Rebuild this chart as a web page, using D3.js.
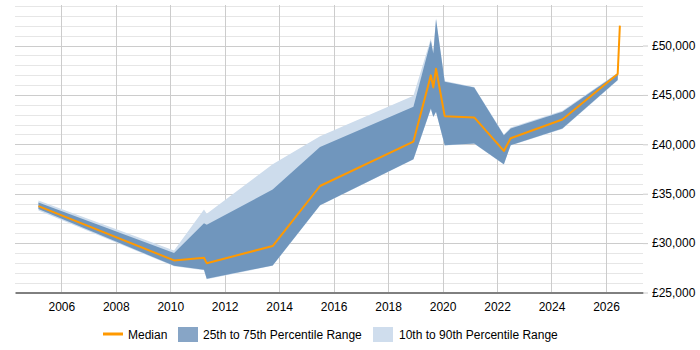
<!DOCTYPE html>
<html>
<head>
<meta charset="utf-8">
<script src="https://cdn.jsdelivr.net/npm/d3@7"></script>
<style>
  body { margin: 0; background: #fff; }
  svg { font-family: "Liberation Sans", Arial, sans-serif; font-size: 12px; }
</style>
</head>
<body>
<svg id="chart" width="700" height="350"></svg>
<script>
// decimal years of each sample
const years = [2005.16, 2010.14, 2011.24, 2011.34, 2013.76, 2015.5, 2018.93, 2019.57, 2019.66, 2019.76,
  2020.08, 2021.16, 2022.25, 2022.5, 2024.4, 2026.43, 2026.51];
const median = [33750, 28250, 28520, 27970, 29700, 35780, 40280, 46980, 45760, 47650,
  42850, 42720, 39330, 40620, 42510, 47110, 52010];
const p25 = [33450, 27700, 27300, 26390, 27740, 33820, 38490, 43630, 42780, 43290,
  39910, 40080, 37980, 39910, 41600, 46500, 52000];
const p75 = [34100, 29000, 32000, 31860, 35420, 39740, 43790, 50490, 49200, 52650,
  46330, 45760, 40920, 41600, 43290, 47170, 52020];
const p10 = [33300, 27650, 27250, 26350, 27700, 33800, 38450, 43550, 42750, 43250,
  39880, 40050, 37950, 39880, 41550, 46450, 52000];
const p90 = [34300, 29250, 33390, 32980, 37980, 40820, 44910, 50700, 49300, 52750,
  46400, 45800, 41000, 41700, 43400, 47250, 52030];

const xTicks = [2006, 2008, 2010, 2012, 2014, 2016, 2018, 2020, 2022, 2024, 2026];
const yTicks = [25000, 30000, 35000, 40000, 45000, 50000];
const legendItems = ['Median', '25th to 75th Percentile Range', '10th to 90th Percentile Range'];

const toDate = y => {
  const yr = Math.floor(y);
  const start = new Date(yr, 0, 1);
  const end = new Date(yr + 1, 0, 1);
  return new Date(start.getTime() + (y - yr) * (end - start));
};

const data = years.map((y, i) => ({
  date: toDate(y), median: median[i], p25: p25[i], p75: p75[i], p10: p10[i], p90: p90[i],
}));

const margin = { left: 15, right: 57, top: 5, bottom: 58 };
const width = 700, height = 350;
const svg = d3.select('#chart');

const x = d3.scaleTime()
  .domain([toDate(2004.3), toDate(2027.36)])
  .range([margin.left, width - margin.right]);
const y = d3.scaleLinear()
  .domain([25000, 54000])
  .range([height - margin.bottom + 0.5, margin.top + 1]);

// grid: minor every 1000, major every 5000
const grid = svg.append('g');
grid.selectAll('.minor')
  .data(d3.range(26000, 54001, 1000).filter(v => v % 5000 !== 0))
  .join('line')
  .attr('x1', margin.left).attr('x2', width - margin.right)
  .attr('y1', d => Math.round(y(d)) + 0.5).attr('y2', d => Math.round(y(d)) + 0.5)
  .attr('stroke', '#e6e6e6');
grid.selectAll('.major')
  .data(yTicks.slice(1))
  .join('line')
  .attr('x1', margin.left).attr('x2', width - margin.right)
  .attr('y1', d => Math.round(y(d)) + 0.5).attr('y2', d => Math.round(y(d)) + 0.5)
  .attr('stroke', '#cccccc');
grid.selectAll('.vert')
  .data(xTicks)
  .join('line')
  .attr('x1', d => Math.round(x(toDate(d))) + 0.5).attr('x2', d => Math.round(x(toDate(d))) + 0.5)
  .attr('y1', margin.top).attr('y2', height - margin.bottom)
  .attr('stroke', '#cccccc');

// bands
const area = (lo, hi) => d3.area()
  .x(d => x(d.date))
  .y0(d => y(d[lo]))
  .y1(d => y(d[hi]));

svg.append('path')
  .datum(data)
  .attr('d', area('p10', 'p90'))
  .attr('fill', '#cddcec');
svg.append('path')
  .datum(data)
  .attr('d', area('p25', 'p75'))
  .attr('fill', '#7096bd');

svg.append('path')
  .datum(data)
  .attr('d', d3.line().x(d => x(d.date)).y(d => y(d.median)))
  .attr('fill', 'none')
  .attr('stroke', '#ff9900')
  .attr('stroke-width', 2)
  .attr('stroke-linejoin', 'round');

// x axis
const xAxis = svg.append('g')
  .attr('transform', `translate(0, ${height - margin.bottom + 0.5})`)
  .call(d3.axisBottom(x)
    .tickValues(xTicks.map(toDate))
    .tickFormat(d3.timeFormat('%Y'))
    .tickSize(0)
    .tickPadding(10)
    .tickSizeOuter(0));
xAxis.select('.domain').attr('stroke', '#000');
xAxis.selectAll('text').attr('fill', '#000').style('font-size', '12px')
  .style('font-family', '"Liberation Sans", Arial, sans-serif');

// y axis on the right
const yAxis = svg.append('g')
  .attr('transform', `translate(${width - margin.right}, 0)`)
  .call(d3.axisRight(y)
    .tickValues(yTicks)
    .tickFormat(d => '£' + d3.format(',')(d))
    .tickSize(5)
    .tickPadding(4));
yAxis.select('.domain').remove();
yAxis.selectAll('line').attr('stroke', '#cccccc');
yAxis.selectAll('text').attr('fill', '#000').style('font-size', '12px')
  .style('font-family', '"Liberation Sans", Arial, sans-serif');

// legend
const legend = svg.append('g').attr('transform', 'translate(0, 334)');
legend.append('line')
  .attr('x1', 103).attr('x2', 123).attr('y1', 0).attr('y2', 0)
  .attr('stroke', '#ff9900').attr('stroke-width', 3);
legend.append('text').attr('x', 128).attr('y', 4.5).text(legendItems[0]);
legend.append('rect')
  .attr('x', 178).attr('y', -7).attr('width', 20).attr('height', 15)
  .attr('fill', '#87a5c6');
legend.append('text').attr('x', 203).attr('y', 4.5).text(legendItems[1]);
legend.append('rect')
  .attr('x', 373).attr('y', -7).attr('width', 20).attr('height', 15)
  .attr('fill', '#cfdded');
legend.append('text').attr('x', 399).attr('y', 4.5).text(legendItems[2]);
</script>
</body>
</html>
